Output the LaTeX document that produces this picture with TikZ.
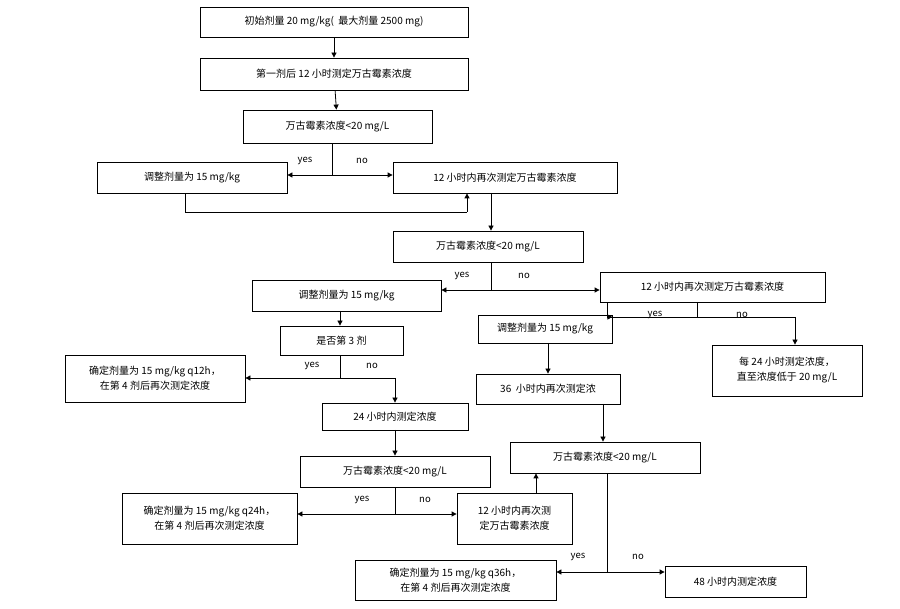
\documentclass[tikz,border=0pt]{standalone}
\usepackage{fontspec}
\setmainfont{Noto Sans CJK SC}
\usetikzlibrary{arrows.meta}
\begin{document}
\begin{tikzpicture}[x=1pt,y=-1pt,
  box/.style={draw,line width=0.8pt,inner sep=2pt,font=\fontsize{10}{15}\selectfont,align=center},
  arr/.style={-{Triangle[length=5pt,width=5pt]},line width=0.8pt},
  ln/.style={line width=0.8pt},
  lab/.style={font=\fontsize{9.5}{11}\selectfont}]
\useasboundingbox (0,0) rectangle (900,609);
\newcommand{\bx}[6]{\node[box,minimum width={#4-#2},minimum height={#5-#3}] (#1) at ({(#2+#4)/2},{(#3+#5)/2}) {#6};}
\bx{b1}{200}{7}{468}{37}{初始剂量 20 mg/kg(\ \ 最大剂量 2500 mg)}
\bx{b2}{200}{58}{468}{90}{第一剂后 12 小时测定万古霉素浓度}
\bx{b3}{243}{110}{432}{143}{万古霉素浓度<20 mg/L}
\bx{b4}{97}{162}{287}{193}{调整剂量为 15 mg/kg}
\bx{b5}{393}{162}{617}{193}{12 小时内再次测定万古霉素浓度}
\bx{b6}{393}{231}{583}{262}{万古霉素浓度<20 mg/L}
\bx{b7}{252}{280}{441}{311}{调整剂量为 15 mg/kg}
\bx{b8}{600}{272}{825}{302}{12 小时内再次测定万古霉素浓度}
\bx{b9}{280}{326}{403}{355}{是否第 3 剂}
\bx{b10}{65}{355}{245}{402}{确定剂量为 15 mg/kg q12h，\\在第 4 剂后再次测定浓度}
\bx{b12}{322}{403}{468}{430}{24 小时内测定浓度}
\bx{b13}{300}{456}{490}{487}{万古霉素浓度<20 mg/L}
\bx{b14}{122}{493}{297}{544}{确定剂量为 15 mg/kg q24h，\\在第 4 剂后再次测定浓度}
\bx{b15}{457}{493}{572}{544}{12 小时内再次测\\定万古霉素浓度}
\bx{b16}{510}{442}{700}{473}{万古霉素浓度<20 mg/L}
\bx{b17}{355}{560}{556}{600}{确定剂量为 15 mg/kg q36h，\\在第 4 剂后再次测定浓度}
\bx{b18}{665}{566}{806}{597}{48 小时内测定浓度}
\bx{b19}{478}{315}{612}{343}{调整剂量为 15 mg/kg}
\bx{b20}{476}{374}{620}{404}{36\ \ 小时内再次测定浓}
\bx{b21}{712}{345}{862}{396}{每 24 小时测定浓度，\\直至浓度低于 20 mg/L}

\draw[arr] (b1) -- (b2);
\draw[arr] (b2) -- (b3);
\coordinate (j1) at (332,175);
\draw[ln] (b3.south -| j1) -- (j1);
\draw[arr] (j1) -- (j1 -| b4.east);
\draw[arr] (j1) -- (j1 -| b5.west);
\node[lab] (y1) at (305,161) {yes}; \node[lab] (n1) at (362,161) {no};
\coordinate (l1) at (185,212);
\coordinate (l2) at (467,212);
\draw[ln] (b4.south -| l1) -- (l1) -- (l2);
\draw[arr] (l2) -- (l2 |- b5.south);
\coordinate (c5) at (491,193);
\draw[arr] (c5) -- (c5 |- b6.north);
\coordinate (j2) at (491,290);
\draw[ln] (b6.south -| j2) -- (j2);
\draw[arr] (j2) -- (j2 -| b7.east);
\draw[arr] (j2) -- (j2 -| b8.west);
\node[lab] (y2) at (462,276) {yes}; \node[lab] (n2) at (524,276) {no};
\coordinate (c7) at (340,311);
\draw[arr] (c7) -- (c7 |- b9.north);
\coordinate (j3) at (340,378);
\coordinate (k3) at (395,378);
\draw[ln] (b9.south -| j3) -- (j3);
\draw[arr] (j3) -- (j3 -| b10.east);
\draw[ln] (j3) -- (k3);
\draw[arr] (k3) -- (k3 |- b12.north);
\node[lab] (y3) at (312,366) {yes}; \node[lab] (n3) at (372,366) {no};
\coordinate (c12) at (395,430);
\draw[arr] (c12) -- (c12 |- b13.north);
\coordinate (j4) at (395,514);
\draw[ln] (b13.south -| j4) -- (j4);
\draw[arr] (j4) -- (j4 -| b14.east);
\draw[arr] (j4) -- (j4 -| b15.west);
\node[lab] (y4) at (362,500) {yes}; \node[lab] (n4) at (425,500) {no};
\coordinate (c15) at (536,493);
\draw[arr] (c15) -- (c15 |- b16.south);
\coordinate (j5) at (607,317);
\coordinate (k5) at (795,317);
\draw[ln] (b8.south -| j5) -- (j5);
\draw[arr] (j5) -- (j5 -| b19.east);
\draw[ln] (j5) -- (k5);
\draw[arr] (k5) -- (k5 |- b21.north);
\path (697,302) coordinate (c8);
\draw[ln] (c8) -- (c8 |- j5);
\draw[ln,draw=none] (j5) -- (j5);
\node[lab] (y5) at (655,315) {yes}; \node[lab] (n5) at (742,315) {no};
\coordinate (c19) at (548,343);
\draw[arr] (c19) -- (c19 |- b20.north);
\coordinate (c20) at (603,404);
\draw[arr] (c20) -- (c20 |- b16.north);
\coordinate (j6) at (607,572);
\draw[ln] (b16.south -| j6) -- (j6);
\draw[arr] (j6) -- (j6 -| b17.east);
\draw[arr] (j6) -- (j6 -| b18.west);
\node[lab] (y6) at (578,557) {yes}; \node[lab] (n6) at (638,557) {no};
\end{tikzpicture}
\end{document}
